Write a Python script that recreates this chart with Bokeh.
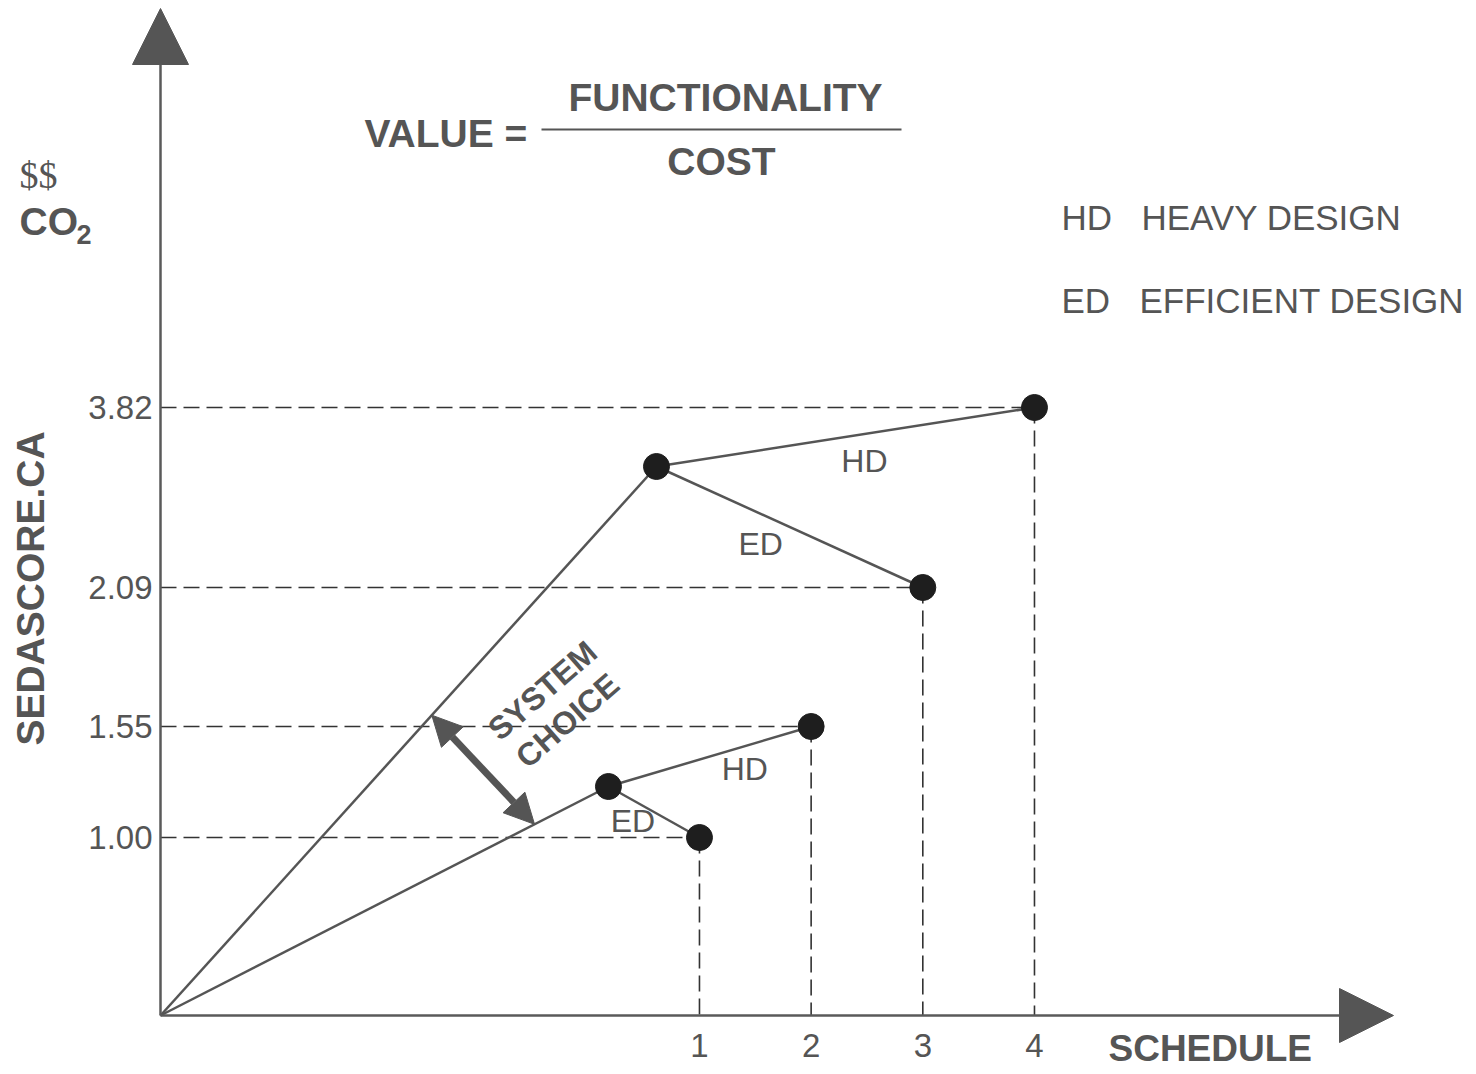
import math
from bokeh.plotting import figure
from bokeh.models import Arrow, NormalHead, ColumnDataSource, Range1d
from bokeh.core.properties import value
from bokeh.embed import file_html
from bokeh.resources import INLINE

# ---------------- data ----------------
schedule = [1, 2, 3, 4]                       # schedule value of each end point
design = ["ED", "HD", "ED", "HD"]             # design type of each end point
score_labels = ["1.00", "1.55", "2.09", "3.82"]  # SEDASCORE labels of the end points
score_height = [1.78, 2.89, 4.28, 6.08]       # drawn height of each score level (schematic axis)
system = ["low", "low", "high", "high"]       # which system each end point belongs to
junction_x = {"low": 0.185, "high": 0.615}    # branching point of each system
junction_h = {"low": 2.29, "high": 5.49}
legend_codes = ["HD", "ED"]
legend_names = ["HEAVY DESIGN", "EFFICIENT DESIGN"]
x_tick_labels = ["1", "2", "3", "4"]

# ---------------- layout ----------------
W, H = 1472, 1072
XPX, YPX = 111.67, 100.0          # pixels per unit
X0, Y0 = 587.3, 1015.0            # reference-pixel position of schedule 0 / height 0
MARGIN = 0


def sx(X):  # reference pixel -> data x
    return (X - X0) / XPX


def sy(Y):  # reference pixel -> data y
    return (Y0 - Y) / YPX


origin_x, origin_y = sx(160), 0.0

TEXT = "#555555"
LINE = "#555555"
AXIS = "#5a5a5a"
DOT = "#1e1e1e"
DASH = "#333333"
FONT = "Liberation Sans"

p = figure(width=W, height=H,
           x_range=Range1d(sx(MARGIN), sx(MARGIN + W)),
           y_range=Range1d(sy(MARGIN + H), sy(MARGIN)),
           output_backend="svg", toolbar_location=None,
           x_axis_type=None, y_axis_type=None, min_border=0)
p.outline_line_color = None
p.background_fill_color = "white"
p.border_fill_color = "white"

# ---------------- dashed guide lines ----------------
guides = ColumnDataSource(dict(x=schedule, h=score_height,
                               ox=[origin_x] * 4, oy=[origin_y] * 4))
p.segment(x0="ox", y0="h", x1="x", y1="h", source=guides,
          line_color=DASH, line_width=1.6, line_dash="16 7")
p.segment(x0="x", y0="h", x1="x", y1="oy", source=guides,
          line_color=DASH, line_width=1.6, line_dash="16 7")

# ---------------- system lines ----------------
for s in ["low", "high"]:
    p.line([origin_x, junction_x[s]], [origin_y, junction_h[s]],
           line_color=LINE, line_width=2.5)
jx = [junction_x[s] for s in system]
jh = [junction_h[s] for s in system]
branches = ColumnDataSource(dict(jx=jx, jh=jh, x=schedule, h=score_height))
p.segment(x0="jx", y0="jh", x1="x", y1="h", source=branches,
          line_color=LINE, line_width=2.5)

# ---------------- dots ----------------
p.scatter(x=schedule + [junction_x["low"], junction_x["high"]],
          y=score_height + [junction_h["low"], junction_h["high"]],
          size=26, fill_color=DOT, line_color=DOT)

# ---------------- branch labels (HD / ED) ----------------
mid_x = [(a + b) / 2 for a, b in zip(jx, schedule)]
mid_y = [(a + b) / 2 for a, b in zip(jh, score_height)]
lab = ColumnDataSource(dict(x=mid_x, y=mid_y, t=design,
                            xo=[-21, 35, -29, 19], yo=[9, 12, 17, 24]))
p.text(x="x", y="y", text="t", x_offset="xo", y_offset="yo", source=lab,
       text_font=value(FONT), text_font_size="32px", text_color=TEXT,
       text_align="center", text_baseline="middle")

# ---------------- axes with arrow heads ----------------
p.add_layout(Arrow(x_start=origin_x, y_start=origin_y, x_end=origin_x, y_end=sy(8),
                   line_color=AXIS, line_width=2.5,
                   end=NormalHead(size=56, fill_color=TEXT, line_color=TEXT, line_width=1)))
p.add_layout(Arrow(x_start=origin_x, y_start=origin_y, x_end=sx(1393), y_end=origin_y,
                   line_color=AXIS, line_width=2.5,
                   end=NormalHead(size=54, fill_color=TEXT, line_color=TEXT, line_width=1)))

# tick labels
p.text(x=[origin_x] * 4, y=score_height, text=score_labels, x_offset=-8, y_offset=0,
       text_font=value(FONT), text_font_size="33px", text_color=TEXT,
       text_align="right", text_baseline="middle")
p.text(x=schedule, y=[origin_y] * 4, text=x_tick_labels, y_offset=30,
       text_font=value(FONT), text_font_size="33px", text_color=TEXT,
       text_align="center", text_baseline="middle")


def txt(X, Y, s, size, bold=False, align="left", baseline="middle",
        angle=0.0, font=FONT):
    p.text(x=[sx(X)], y=[sy(Y)], text=[s], text_font=value(font),
           text_font_size=size, text_font_style="bold" if bold else "normal",
           text_align=align, text_baseline=baseline, angle=angle, text_color=TEXT)


# axis titles
txt(30, 588, "SEDASCORE.CA", "39px", bold=True, align="center", angle=math.pi / 2)
txt(1108, 1048, "SCHEDULE", "37px", bold=True)
txt(19, 174, "$$", "38px", font="Liberation Serif")
txt(19, 221, "CO", "39px", bold=True)
txt(76, 234, "2", "27px", bold=True)

# formula
txt(725, 97, "FUNCTIONALITY", "39px", bold=True, align="center")
txt(364, 133, "VALUE =", "39px", bold=True)
txt(721, 161, "COST", "39px", bold=True, align="center")
p.line([sx(541), sx(901)], [sy(129), sy(129)], line_color=LINE, line_width=2.2)

# legend
for code, name, Y, X in zip(legend_codes, legend_names, [217, 300], [1061, 1139]):
    txt(1061, Y, code, "35px")
    txt(X + (80 if code == "HD" else 0), Y, name, "35px")

# system choice arrow between the two system lines
t_top, t_bot = 0.547, 0.835
ax0 = origin_x + t_top * (junction_x["high"] - origin_x)
ay0 = origin_y + t_top * (junction_h["high"] - origin_y)
ax1 = origin_x + t_bot * (junction_x["low"] - origin_x)
ay1 = origin_y + t_bot * (junction_h["low"] - origin_y)
p.add_layout(Arrow(x_start=ax0, y_start=ay0, x_end=ax1, y_end=ay1,
                   line_color=LINE, line_width=7,
                   start=NormalHead(size=30, fill_color=LINE, line_color=LINE, line_width=1),
                   end=NormalHead(size=30, fill_color=LINE, line_color=LINE, line_width=1)))
ang = math.radians(41)
txt(542, 690, "SYSTEM", "32px", bold=True, align="center", angle=ang)
txt(567, 720, "CHOICE", "32px", bold=True, align="center", angle=ang)

open("out.html", "w").write(file_html(p, INLINE))
